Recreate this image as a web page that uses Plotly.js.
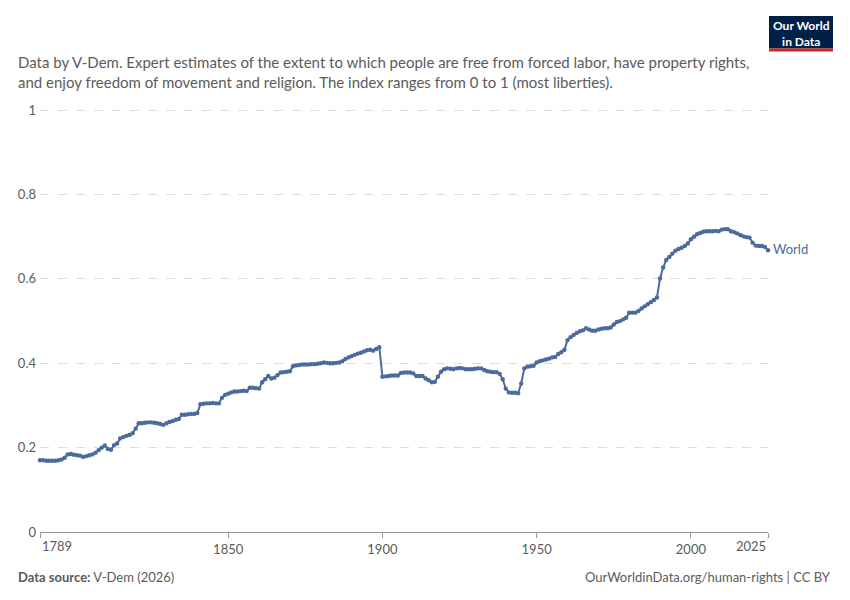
<!DOCTYPE html>
<html>
<head>
<meta charset="utf-8">
<script src="https://cdn.plot.ly/plotly-3.0.1.min.js"></script>
<style>
  body { margin: 0; background: #fff; }
  #chart { width: 850px; height: 600px; }
</style>
</head>
<body>
<div id="chart"></div>
<script>
// Years covered by the series
var firstYear = 1789;
var lastYear = 2025;

// Civil liberties index, world average (one value per year from 1789)
var libertyValues = [
  // 1789-1798
  0.170, 0.170, 0.169, 0.169, 0.169, 0.169, 0.170, 0.172, 0.176, 0.184,
  // 1799-1808
  0.185, 0.183, 0.182, 0.181, 0.178, 0.180, 0.182, 0.184, 0.188, 0.194,
  // 1809-1818
  0.200, 0.205, 0.197, 0.195, 0.206, 0.210, 0.222, 0.225, 0.228, 0.230,
  // 1819-1828
  0.234, 0.245, 0.258, 0.258, 0.259, 0.260, 0.260, 0.259, 0.258, 0.256,
  // 1829-1838
  0.254, 0.258, 0.261, 0.263, 0.266, 0.268, 0.278, 0.278, 0.279, 0.280,
  // 1839-1848
  0.280, 0.282, 0.303, 0.304, 0.305, 0.305, 0.306, 0.305, 0.305, 0.318,
  // 1849-1858
  0.325, 0.328, 0.331, 0.333, 0.333, 0.334, 0.335, 0.334, 0.342, 0.342,
  // 1859-1868
  0.341, 0.340, 0.355, 0.362, 0.370, 0.364, 0.366, 0.372, 0.378, 0.379,
  // 1869-1878
  0.380, 0.381, 0.393, 0.395, 0.396, 0.397, 0.397, 0.397, 0.398, 0.398,
  // 1879-1888
  0.399, 0.400, 0.402, 0.401, 0.400, 0.400, 0.401, 0.402, 0.405, 0.410,
  // 1889-1898
  0.414, 0.417, 0.420, 0.423, 0.425, 0.428, 0.431, 0.432, 0.430, 0.434,
  // 1899
  0.438,
  // 1900-1909
  0.368, 0.369, 0.370, 0.371, 0.371, 0.371, 0.377, 0.378, 0.378, 0.378,
  // 1910-1919
  0.376, 0.370, 0.370, 0.370, 0.364, 0.360, 0.355, 0.356, 0.368, 0.380,
  // 1920-1929
  0.386, 0.388, 0.387, 0.386, 0.388, 0.389, 0.388, 0.386, 0.386, 0.386,
  // 1930-1939
  0.387, 0.388, 0.388, 0.384, 0.381, 0.380, 0.379, 0.379, 0.375, 0.362,
  // 1940-1949
  0.340, 0.331, 0.330, 0.330, 0.329, 0.352, 0.388, 0.392, 0.393, 0.394,
  // 1950-1959
  0.402, 0.405, 0.407, 0.409, 0.411, 0.414, 0.415, 0.422, 0.426, 0.432,
  // 1960-1969
  0.455, 0.462, 0.467, 0.472, 0.476, 0.478, 0.483, 0.480, 0.477, 0.477,
  // 1970-1979
  0.480, 0.482, 0.483, 0.483, 0.485, 0.492, 0.498, 0.500, 0.504, 0.508,
  // 1980-1989
  0.520, 0.520, 0.520, 0.524, 0.530, 0.535, 0.540, 0.545, 0.550, 0.556,
  // 1990-1999
  0.601, 0.627, 0.645, 0.652, 0.660, 0.667, 0.671, 0.674, 0.678, 0.684,
  // 2000-2009
  0.694, 0.700, 0.706, 0.709, 0.712, 0.713, 0.713, 0.713, 0.714, 0.713,
  // 2010-2019
  0.717, 0.718, 0.718, 0.713, 0.711, 0.708, 0.704, 0.701, 0.699, 0.698,
  // 2020-2025
  0.686, 0.679, 0.678, 0.678, 0.676, 0.668
];

var xTickVals = [1789, 1850, 1900, 1950, 2000, 2025];
var yTickVals = [0, 0.2, 0.4, 0.6, 0.8, 1];
var yTickText = ['0', '0.2', '0.4', '0.6', '0.8', '1'];
var seriesName = 'World';

var years = [];
for (var yr = firstYear; yr <= lastYear; yr++) years.push(yr);

var lineColor = '#4c6a9c';
var textGrey = '#5b5b5b';

var trace = {
  x: years,
  y: libertyValues,
  mode: 'lines+markers',
  name: seriesName,
  line: { color: lineColor, width: 2 },
  marker: { color: lineColor, size: 4.4 },
  cliponaxis: false,
  hoverinfo: 'skip'
};

// y range runs a hair past 1 so plotly keeps the top gridline
var yMax = 1.01;
var plotTop = Math.round(532 - 422 * yMax);
var plotH = 532 - plotTop;

// paper coords: plot spans x 40..768 px, y plotTop..532 px
function px(x) { return (x - 40) / 728; }
function py(y) { return (532 - y) / plotH; }

// first and last year labels sit inside the axis ends, as in the original
var xTickText = xTickVals.map(function (v, i) {
  return (i === 0 || i === xTickVals.length - 1) ? '' : String(v);
});

var layout = {
  width: 850,
  height: 600,
  margin: { l: 40, r: 82, t: plotTop, b: 68 },
  paper_bgcolor: '#ffffff',
  plot_bgcolor: '#ffffff',
  showlegend: false,
  font: { family: 'Lato, "Open Sans", sans-serif', color: textGrey, size: 13 },
  xaxis: {
    range: [firstYear, lastYear],
    tickvals: xTickVals,
    ticktext: xTickText,
    ticks: 'outside',
    ticklen: 5,
    tickcolor: '#999',
    showline: true,
    linecolor: '#999',
    linewidth: 1,
    showgrid: false,
    zeroline: false,
    tickfont: { size: 13, color: textGrey }
  },
  yaxis: {
    range: [0, yMax],
    tickvals: yTickVals,
    ticktext: yTickText,
    showgrid: true,
    gridcolor: '#dddddd',
    griddash: 'dash',
    gridwidth: 1,
    zeroline: false,
    showline: false,
    ticks: '',
    ticklabelstandoff: 3,
    tickfont: { size: 13, color: textGrey }
  },
  shapes: [
    { type: 'rect', xref: 'paper', yref: 'paper',
      x0: px(769), x1: px(833), y0: py(48.5), y1: py(16),
      fillcolor: '#002147', line: { width: 0 } },
    { type: 'rect', xref: 'paper', yref: 'paper',
      x0: px(769), x1: px(833), y0: py(51.5), y1: py(48.5),
      fillcolor: '#ce261e', line: { width: 0 } }
  ],
  annotations: [
    {
      xref: 'paper', yref: 'paper', x: px(801), y: py(33),
      xanchor: 'center', yanchor: 'middle', showarrow: false,
      text: '<b>Our World<br>in Data</b>',
      font: { family: 'Lato', size: 12, color: '#ffffff' }
    },
    {
      xref: 'paper', yref: 'paper', x: px(16), y: py(51),
      xanchor: 'left', yanchor: 'top', align: 'left', showarrow: false,
      text: 'Data by V-Dem. Expert estimates of the extent to which people are free from forced labor, have property rights,<br>and enjoy freedom of movement and religion. The index ranges from 0 to 1 (most liberties).',
      font: { family: 'Lato', size: 15, color: textGrey }
    },
    {
      xref: 'x', yref: 'paper', x: xTickVals[0], y: py(546),
      xanchor: 'left', yanchor: 'middle', showarrow: false,
      text: String(xTickVals[0]),
      font: { family: 'Lato', size: 13, color: textGrey }
    },
    {
      xref: 'x', yref: 'paper', x: xTickVals[xTickVals.length - 1], y: py(546),
      xanchor: 'right', yanchor: 'middle', showarrow: false,
      text: String(xTickVals[xTickVals.length - 1]),
      font: { family: 'Lato', size: 13, color: textGrey }
    },
    {
      xref: 'x', yref: 'y', x: lastYear, y: libertyValues[libertyValues.length - 1],
      xanchor: 'left', yanchor: 'middle', xshift: 3, yshift: 1, showarrow: false,
      text: seriesName,
      font: { family: 'Lato', size: 13, color: lineColor }
    },
    {
      xref: 'paper', yref: 'paper', x: px(16), y: py(577),
      xanchor: 'left', yanchor: 'middle', showarrow: false,
      text: '<b>Data source:</b> V-Dem (2026)',
      font: { family: 'Lato', size: 13, color: textGrey }
    },
    {
      xref: 'paper', yref: 'paper', x: px(833), y: py(577),
      xanchor: 'right', yanchor: 'middle', showarrow: false,
      text: 'OurWorldinData.org/human-rights | CC BY',
      font: { family: 'Lato', size: 13, color: textGrey }
    }
  ]
};

Plotly.newPlot('chart', [trace], layout, { displayModeBar: false, staticPlot: true });
</script>
</body>
</html>
